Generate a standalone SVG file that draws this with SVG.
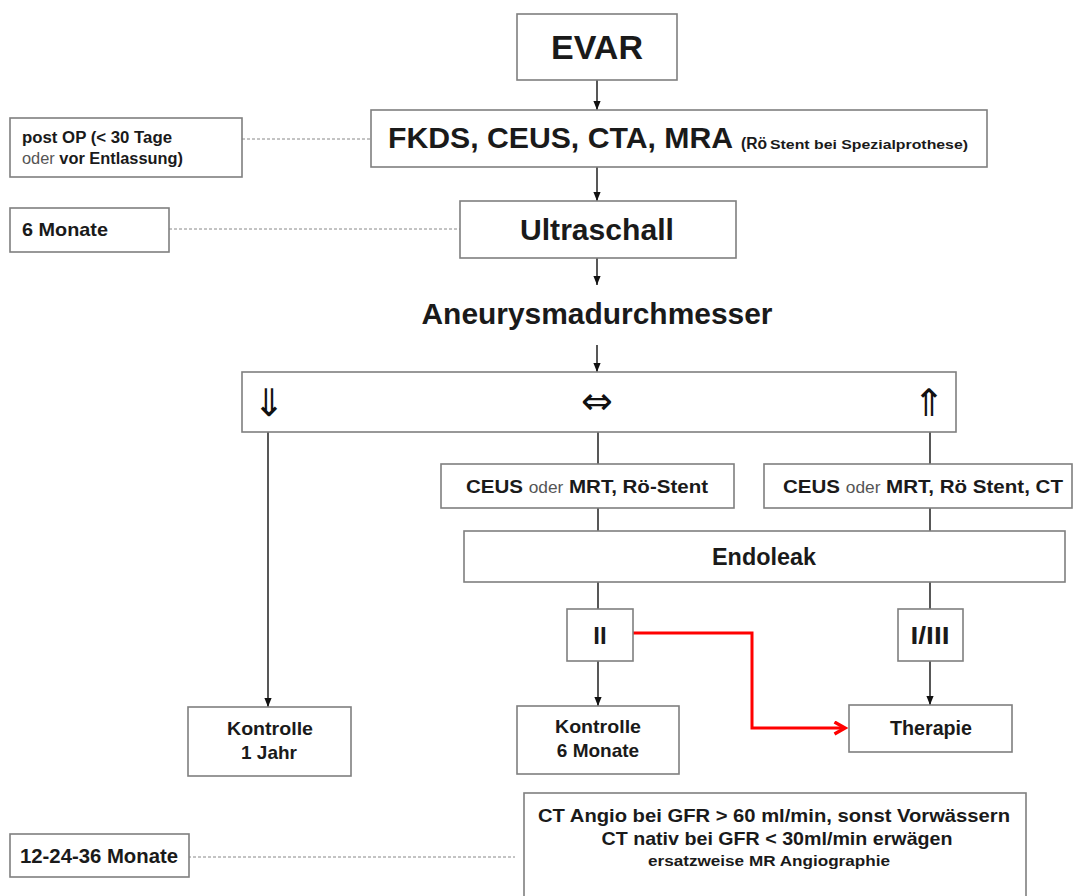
<svg xmlns="http://www.w3.org/2000/svg" width="1075" height="896" viewBox="0 0 1075 896">
<style>
.box{fill:#fff;stroke:#7f7f7f;stroke-width:1.6}
.t{font-family:"Liberation Sans",Arial,sans-serif;font-weight:bold;fill:#1a1a1a}
.n{font-weight:normal;fill:#555}
.c{text-anchor:middle}
.ln{stroke:#111;stroke-width:1.4;fill:none}
.dash{stroke:#888;stroke-width:1;stroke-dasharray:3 2;fill:none}
.sym{font-family:"DejaVu Sans",sans-serif;fill:#111}
</style>
<defs>
<marker id="ar" viewBox="0 0 10 10" refX="10" refY="5" markerWidth="9" markerHeight="9" markerUnits="userSpaceOnUse" orient="auto">
<path d="M0,1 L10,5 L0,9 Z" fill="#111"/>
</marker>
<marker id="arr" viewBox="0 0 10 10" refX="8" refY="5" markerWidth="5" markerHeight="5" orient="auto">
<path d="M1,1 L8,5 L1,9" fill="none" stroke="#f00" stroke-width="2.2"/>
</marker>
</defs>
<rect width="1075" height="896" fill="#fff"/>
<g id="connectors">
<line class="ln" x1="597" y1="80" x2="597" y2="110" marker-end="url(#ar)"/>
<line class="ln" x1="597" y1="167" x2="597" y2="201" marker-end="url(#ar)"/>
<line class="ln" x1="597" y1="258" x2="597" y2="285" marker-end="url(#ar)"/>
<line class="ln" x1="597" y1="345" x2="597" y2="372" marker-end="url(#ar)"/>
<line class="ln" x1="268" y1="432" x2="268" y2="707" marker-end="url(#ar)"/>
<line class="ln" x1="598" y1="432" x2="598" y2="464"/>
<line class="ln" x1="930" y1="432" x2="930" y2="464"/>
<line class="ln" x1="598" y1="508" x2="598" y2="531"/>
<line class="ln" x1="930" y1="508" x2="930" y2="531"/>
<line class="ln" x1="598" y1="582" x2="598" y2="609"/>
<line class="ln" x1="930" y1="582" x2="930" y2="609"/>
<line class="ln" x1="598" y1="661" x2="598" y2="706" marker-end="url(#ar)"/>
<line class="ln" x1="930" y1="661" x2="930" y2="705" marker-end="url(#ar)"/>
<polyline points="633,633 752,633 752,728 845,728" fill="none" stroke="#f00" stroke-width="3" marker-end="url(#arr)"/>
<line class="dash" x1="242" y1="139" x2="371" y2="139"/>
<line class="dash" x1="169" y1="229" x2="460" y2="229"/>
<line class="dash" x1="178" y1="857" x2="515" y2="857"/>
</g>
<g id="evar"><rect class="box" x="517" y="14" width="160" height="66"/><text class="t c" x="597" y="59" font-size="34">EVAR</text></g>
<g id="fkds"><rect class="box" x="371" y="110" width="616" height="57"/>
<text class="t" x="388" y="148" font-size="30" textLength="345" lengthAdjust="spacingAndGlyphs">FKDS, CEUS, CTA, MRA</text>
<text class="t" x="741" y="149" font-size="16" textLength="26" lengthAdjust="spacingAndGlyphs">(Rö</text>
<text class="t" x="770" y="149" font-size="12" textLength="198" lengthAdjust="spacingAndGlyphs">Stent bei Spezialprothese)</text></g>
<g id="postop"><rect class="box" x="10" y="118" width="232" height="59"/>
<text class="t" x="22" y="143" font-size="16" textLength="150" lengthAdjust="spacingAndGlyphs">post OP (&lt; 30 Tage</text>
<text class="t" x="22" y="164" font-size="16" textLength="161" lengthAdjust="spacingAndGlyphs"><tspan class="n">oder</tspan> vor Entlassung)</text></g>
<g id="ultraschall"><rect class="box" x="460" y="201" width="276" height="57"/>
<text class="t c" x="597" y="240" font-size="30" textLength="154" lengthAdjust="spacingAndGlyphs">Ultraschall</text></g>
<g id="m6"><rect class="box" x="10" y="208" width="159" height="44"/><text class="t" x="22" y="236" font-size="19" textLength="86" lengthAdjust="spacingAndGlyphs">6 Monate</text></g>
<g id="aneurysma"><text class="t c" x="597" y="324" font-size="29" textLength="351" lengthAdjust="spacingAndGlyphs">Aneurysmadurchmesser</text></g>
<g id="trend"><rect class="box" x="242" y="372" width="714" height="60"/>
<text class="sym c" x="269" y="416" font-size="38">⇓</text>
<text class="sym c" x="597" y="414" font-size="38">⇔</text>
<text class="sym c" x="929" y="416" font-size="38">⇑</text></g>
<g id="ceus1"><rect class="box" x="441" y="464" width="293" height="44"/>
<text class="t c" x="587" y="493" font-size="19" textLength="242" lengthAdjust="spacingAndGlyphs">CEUS <tspan class="n" font-size="16" fill="#222">oder</tspan> MRT, Rö-Stent</text></g>
<g id="ceus2"><rect class="box" x="764" y="464" width="308" height="44"/>
<text class="t c" x="923" y="493" font-size="19" textLength="280" lengthAdjust="spacingAndGlyphs">CEUS <tspan class="n" font-size="16" fill="#222">oder</tspan> MRT, Rö Stent, CT</text></g>
<g id="endoleak"><rect class="box" x="464" y="531" width="601" height="51"/>
<text class="t c" x="764" y="565" font-size="23" textLength="104" lengthAdjust="spacingAndGlyphs">Endoleak</text></g>
<g id="ii"><rect class="box" x="567" y="609" width="66" height="52"/><text class="t c" x="600" y="644" font-size="24">II</text></g>
<g id="i3"><rect class="box" x="898" y="609" width="65" height="52"/><text class="t c" x="930" y="644" font-size="24" textLength="39" lengthAdjust="spacingAndGlyphs">I/III</text></g>
<g id="k1"><rect class="box" x="188" y="707" width="163" height="69"/>
<text class="t c" x="270" y="735" font-size="19" textLength="86" lengthAdjust="spacingAndGlyphs">Kontrolle</text><text class="t c" x="269" y="759" font-size="19">1 Jahr</text></g>
<g id="k6"><rect class="box" x="517" y="706" width="162" height="68"/>
<text class="t c" x="598" y="733" font-size="19" textLength="86" lengthAdjust="spacingAndGlyphs">Kontrolle</text><text class="t c" x="598" y="757" font-size="19">6 Monate</text></g>
<g id="therapie"><rect class="box" x="849" y="705" width="163" height="47"/><text class="t c" x="931" y="735" font-size="20" textLength="82" lengthAdjust="spacingAndGlyphs">Therapie</text></g>
<g id="m12"><rect class="box" x="10" y="834" width="179" height="43"/><text class="t" x="20" y="863" font-size="20" textLength="158" lengthAdjust="spacingAndGlyphs">12-24-36 Monate</text></g>
<g id="ct"><rect class="box" x="524" y="793" width="502" height="120"/>
<text class="t c" x="774" y="822" font-size="19" textLength="472" lengthAdjust="spacingAndGlyphs">CT Angio bei GFR &gt; 60 ml/min, sonst Vorwässern</text>
<text class="t c" x="777" y="845" font-size="19" textLength="351" lengthAdjust="spacingAndGlyphs">CT nativ bei GFR &lt; 30ml/min  erwägen</text>
<text class="t c" x="769" y="866" font-size="14" textLength="242" lengthAdjust="spacingAndGlyphs">ersatzweise MR Angiographie</text></g>
</svg>
